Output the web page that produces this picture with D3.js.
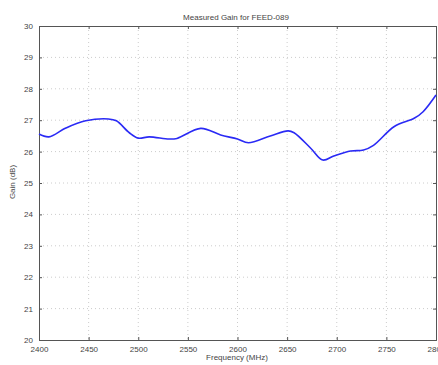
<!DOCTYPE html>
<html>
<head>
<meta charset="utf-8">
<script src="https://cdn.jsdelivr.net/npm/d3@7"></script>
<style>
  body { margin: 0; background: #fff; }
  svg text { font-family: "Liberation Sans", Arial, sans-serif; fill: #444; }
</style>
</head>
<body>
<div id="chart"></div>
<script>
// Measured gain
const freqs = [2400, 2410, 2427, 2447, 2470, 2478, 2491, 2500, 2511, 2531, 2539, 2563,
  2583, 2600, 2611, 2633, 2651, 2657, 2674, 2686, 2697, 2714, 2727, 2737, 2758, 2778, 2787, 2800];
const gains = [26.56, 26.47, 26.75, 26.98, 27.04, 26.98, 26.6, 26.43, 26.47, 26.4, 26.42, 26.74,
  26.53, 26.4, 26.28, 26.5, 26.66, 26.6, 26.1, 25.73, 25.86, 26.02, 26.05, 26.2, 26.8, 27.06, 27.27, 27.8];
const xTicks = [2400, 2450, 2500, 2550, 2600, 2650, 2700, 2750, 2800];
const yTicks = [20, 21, 22, 23, 24, 25, 26, 27, 28, 29, 30];
const title = 'Measured Gain for FEED-089';
const xLabel = 'Frequency (MHz)';
const yLabel = 'Gain (dB)';

const W = 438, H = 365;
const margin = { top: 26, right: 2, bottom: 25, left: 39 };
const width = W - margin.left - margin.right;
const height = H - margin.top - margin.bottom;

const svg = d3.select('#chart').append('svg')
  .attr('width', W)
  .attr('height', H);

const g = svg.append('g')
  .attr('transform', `translate(${margin.left},${margin.top})`);

const x = d3.scaleLinear().domain([2400, 2800]).range([0, width]);
const y = d3.scaleLinear().domain([20, 30]).range([height, 0]);

// grid
g.append('g').selectAll('line').data(xTicks.slice(1, -1)).join('line')
  .attr('x1', d => x(d)).attr('x2', d => x(d))
  .attr('y1', 0).attr('y2', height)
  .attr('stroke', '#ccc').attr('stroke-dasharray', '1,3');
g.append('g').selectAll('line').data(yTicks.slice(1, -1)).join('line')
  .attr('x1', 0).attr('x2', width)
  .attr('y1', d => y(d)).attr('y2', d => y(d))
  .attr('stroke', '#ccc').attr('stroke-dasharray', '1,3');

// axes with inward ticks on all four sides
const fmt = d3.format('d');
const axB = g.append('g').attr('transform', `translate(0,${height})`)
  .call(d3.axisBottom(x).tickValues(xTicks).tickFormat(fmt).tickSize(-3).tickPadding(6));
const axT = g.append('g')
  .call(d3.axisTop(x).tickValues(xTicks).tickFormat('').tickSize(-3));
const axL = g.append('g')
  .call(d3.axisLeft(y).tickValues(yTicks).tickFormat(fmt).tickSize(-3).tickPadding(6));
const axR = g.append('g').attr('transform', `translate(${width},0)`)
  .call(d3.axisRight(y).tickValues(yTicks).tickFormat('').tickSize(-3));

[axB, axT, axL, axR].forEach(a => {
  a.select('.domain').attr('stroke', '#555');
  a.selectAll('.tick line').attr('stroke', '#555');
  a.selectAll('text').style('font-size', '8px').attr('fill', '#444');
});

// line
const pts = freqs.map((f, i) => ({ f, v: gains[i] }));
g.append('path')
  .datum(pts)
  .attr('fill', 'none')
  .attr('stroke', '#2a2af5')
  .attr('stroke-width', 1.6)
  .attr('d', d3.line().x(d => x(d.f)).y(d => y(d.v)).curve(d3.curveCatmullRom));

// labels
svg.append('text')
  .attr('x', 236).attr('y', 20)
  .attr('text-anchor', 'middle')
  .style('font-size', '8px')
  .text(title);
svg.append('text')
  .attr('x', 237).attr('y', 360)
  .attr('text-anchor', 'middle')
  .style('font-size', '8px')
  .text(xLabel);
svg.append('text')
  .attr('transform', 'translate(15,182) rotate(-90)')
  .attr('text-anchor', 'middle')
  .style('font-size', '8px')
  .text(yLabel);
</script>
</body>
</html>
